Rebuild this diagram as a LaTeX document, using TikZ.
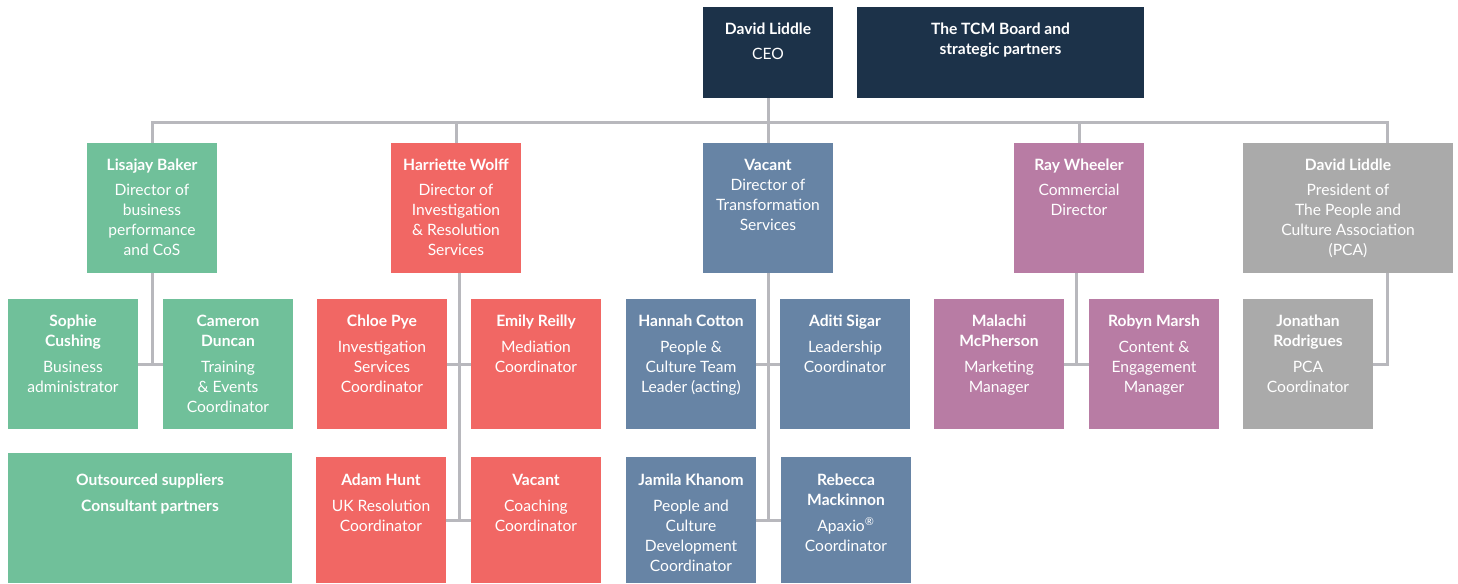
\documentclass[tikz,border=0pt]{standalone}
\usepackage{fontspec}
\setmainfont{Lato}
\definecolor{navy}{HTML}{1C3249}
\definecolor{teamgreen}{HTML}{70C09A}
\definecolor{teamred}{HTML}{F16764}
\definecolor{teamblue}{HTML}{6784A5}
\definecolor{teammauve}{HTML}{B87CA4}
\definecolor{teamgray}{HTML}{AAAAAA}
\definecolor{linegray}{HTML}{B8B8BD}

% box: name, x1, y1, x2, y2, fill, top of text, text
\newcommand\orgnode[8]{%
  \node[orgrect, fill=#6, minimum width={(#4-#2)*0.75pt}, minimum height={(#5-#3)*0.75pt}]
    (#1) at ({(#2+#4)/2},{(#3+#5)/2}) {};
  \node[orgtext] (#1-t) at ({(#2+#4)/2},{#7+1}) {\strut #8};
}

\begin{document}
\begin{tikzpicture}[x=0.75pt,y=-0.75pt,
  orgrect/.style={rectangle, draw=none, inner sep=0pt, outer sep=0pt},
  orgtext/.style={text=white, align=center, inner sep=0pt, anchor=north,
    font=\fontsize{11.7pt}{15pt}\selectfont},
  conn/.style={draw=linegray, line width=2.25pt}]
\useasboundingbox (0,0) rectangle (1458,583);

% top level
\orgnode{ceo}{703}{7}{833}{98}{navy}{19.5}{\textbf{David Liddle}\\[3.75pt]CEO}
\orgnode{board}{857}{7}{1144}{98}{navy}{19.5}{\textbf{The TCM Board and}\\\textbf{strategic partners}}

% directors
\orgnode{lisajay}{87}{143}{217}{273}{teamgreen}{155.5}{\textbf{Lisajay Baker}\\[3.75pt]Director of\\business\\performance\\and CoS}
\orgnode{harriette}{391}{143}{521}{273}{teamred}{155.5}{\textbf{Harriette Wolff}\\[3.75pt]Director of\\Investigation\\\& Resolution\\Services}
\orgnode{vacantdir}{703}{143}{833}{273}{teamblue}{155.5}{\textbf{Vacant}\\Director of\\Transformation\\Services}
\orgnode{ray}{1014}{143}{1144}{273}{teammauve}{155.5}{\textbf{Ray Wheeler}\\[3.75pt]Commercial\\Director}
\orgnode{pca}{1243}{143}{1453}{273}{teamgray}{155.5}{\textbf{David Liddle}\\[3.75pt]President of\\The People and\\Culture Association\\(PCA)}

% business performance team
\orgnode{sophie}{8}{299}{138}{429}{teamgreen}{311.5}{\textbf{Sophie}\\\textbf{Cushing}\\[4.5pt]Business\\administrator}
\orgnode{cameron}{163}{299}{293}{429}{teamgreen}{311.5}{\textbf{Cameron}\\\textbf{Duncan}\\[4.5pt]Training\\\& Events\\Coordinator}
\orgnode{outsourced}{8}{453}{292}{583}{teamgreen}{470.5}{\textbf{Outsourced suppliers}\\[4.5pt]\textbf{Consultant partners}}

% investigation & resolution team
\orgnode{chloe}{317}{299}{447}{429}{teamred}{311.5}{\textbf{Chloe Pye}\\[4.5pt]Investigation\\Services\\Coordinator}
\orgnode{emily}{471}{299}{601}{429}{teamred}{311.5}{\textbf{Emily Reilly}\\[4.5pt]Mediation\\Coordinator}
\orgnode{adam}{316}{457}{446}{583}{teamred}{470.5}{\textbf{Adam Hunt}\\[4.5pt]UK Resolution\\Coordinator}
\orgnode{coaching}{471}{457}{601}{583}{teamred}{470.5}{\textbf{Vacant}\\[4.5pt]Coaching\\Coordinator}

% transformation team
\orgnode{hannah}{626}{299}{756}{429}{teamblue}{311.5}{\textbf{Hannah Cotton}\\[4.5pt]People \&\\Culture Team\\Leader (acting)}
\orgnode{aditi}{780}{299}{910}{429}{teamblue}{311.5}{\textbf{Aditi Sigar}\\[4.5pt]Leadership\\Coordinator}
\orgnode{jamila}{626}{457}{756}{583}{teamblue}{470.5}{\textbf{Jamila Khanom}\\[4.5pt]People and\\Culture\\Development\\Coordinator}
\orgnode{rebecca}{781}{457}{911}{583}{teamblue}{470.5}{\textbf{Rebecca}\\\textbf{Mackinnon}\\[4.5pt]Apaxio\textsuperscript{®}\\Coordinator}

% commercial team
\orgnode{malachi}{934}{299}{1064}{429}{teammauve}{311.5}{\textbf{Malachi}\\\textbf{McPherson}\\[4.5pt]Marketing\\Manager}
\orgnode{robyn}{1089}{299}{1219}{429}{teammauve}{311.5}{\textbf{Robyn Marsh}\\[4.5pt]Content \&\\Engagement\\Manager}

% PCA team
\orgnode{jonathan}{1243}{299}{1373}{429}{teamgray}{311.5}{\textbf{Jonathan}\\\textbf{Rodrigues}\\[4.5pt]PCA\\Coordinator}

% connector anchors
\coordinate (bus) at (0,122);
\coordinate (pcatop) at (1387,143);
\coordinate (pcabot) at (1387,273);
\coordinate (hspine) at (459,273);
\coordinate (rspine) at (1076,273);

% CEO to directors
\draw[conn] (ceo.south) -- (vacantdir.north);
\draw[conn] (lisajay.north) |- (pcatop |- bus) -- (pcatop);
\draw[conn] (harriette.north) -- (harriette.north |- bus);
\draw[conn] (ray.north) -- (ray.north |- bus);

% directors to teams
\draw[conn] (lisajay.south) -- (lisajay.south |- sophie.east);
\draw[conn] (sophie.east) -- (cameron.west);

\draw[conn] (hspine) -- (hspine |- adam.east);
\draw[conn] (chloe.east) -- (emily.west);
\draw[conn] (adam.east) -- (coaching.west);

\draw[conn] (vacantdir.south) -- (vacantdir.south |- jamila.east);
\draw[conn] (hannah.east) -- (aditi.west);
\draw[conn] (jamila.east) -- (rebecca.west);

\draw[conn] (rspine) -- (rspine |- malachi.east);
\draw[conn] (malachi.east) -- (robyn.west);

\draw[conn] (pcabot) |- (jonathan.east);
\end{tikzpicture}
\end{document}
